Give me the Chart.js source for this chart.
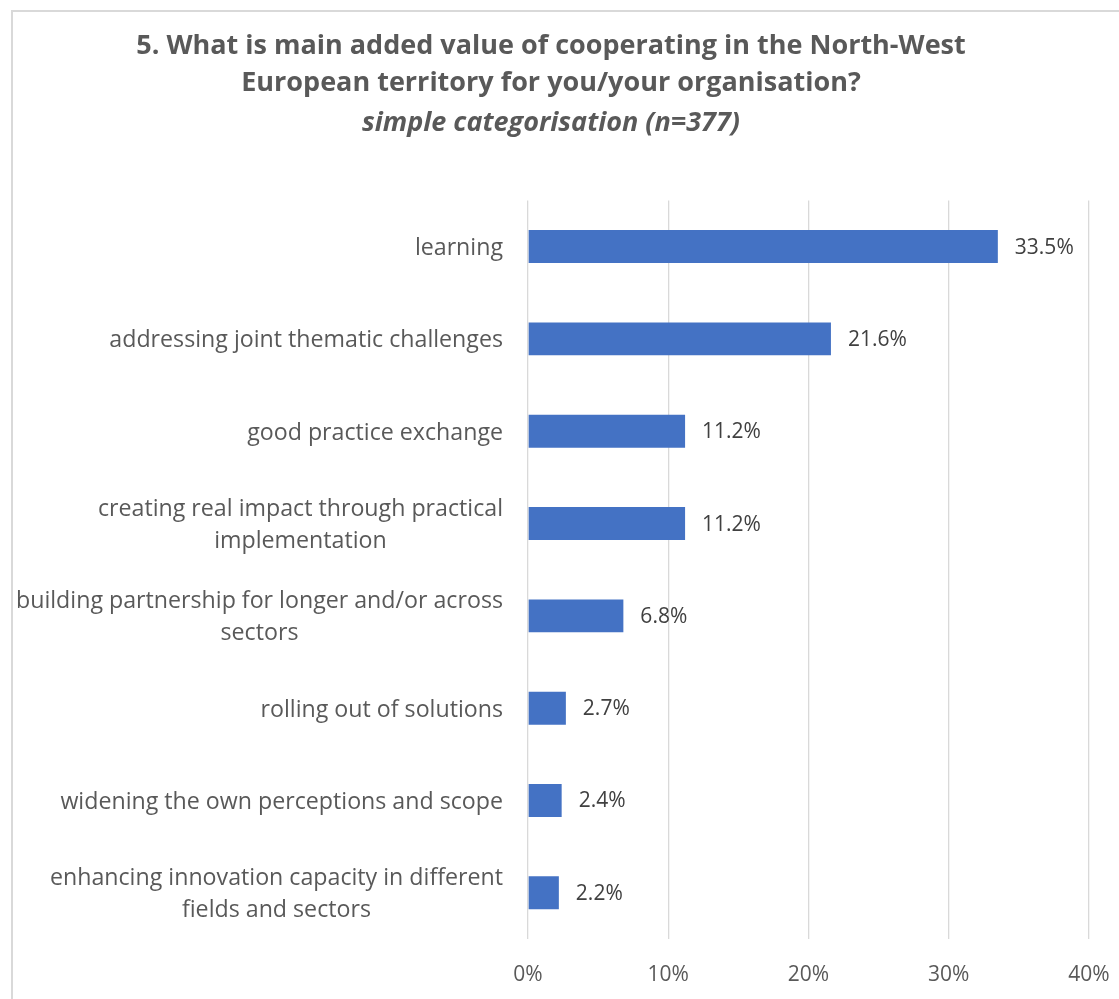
<!DOCTYPE html>
<html>
<head>
<meta charset="utf-8">
<script src="https://cdn.jsdelivr.net/npm/chart.js@4.4.0/dist/chart.umd.min.js"></script>
<style>
  html, body { margin: 0; padding: 0; background: #fff; overflow: hidden; }
  #box {
    position: absolute; left: 11px; top: 10px;
    width: 1132px; height: 1000px;
    border: 2px solid #d9d9d9;
  }
  canvas { display: block; }
</style>
</head>
<body>
<div id="box"><canvas id="addedValueChart" width="1132" height="1000"></canvas></div>
<script>
// survey answers, share of respondents in %
const categories = [
  ['learning'],
  ['addressing joint thematic challenges'],
  ['good practice exchange'],
  ['creating real impact through practical', 'implementation'],
  ['building partnership for longer and/or across', 'sectors'],
  ['rolling out of solutions'],
  ['widening the own perceptions and scope'],
  ['enhancing innovation capacity in different', 'fields and sectors']
];
const shares = [33.5, 21.6, 11.2, 11.2, 6.8, 2.7, 2.4, 2.2];
const xTicks = [0, 10, 20, 30, 40];

const FONT = '"Open Sans", "Noto Sans", sans-serif';
const TEXT = '#595959';

// category labels: block right aligned to the axis, lines centred inside the block
const categoryLabels = {
  id: 'categoryLabels',
  afterDraw(chart) {
    const { ctx, scales: { y } } = chart;
    const right = y.right - 25;
    const lineH = 32;
    ctx.save();
    ctx.font = '23.2px ' + FONT;
    ctx.fillStyle = TEXT;
    ctx.textAlign = 'center';
    ctx.textBaseline = 'middle';
    categories.forEach((lines, i) => {
      const w = Math.max(...lines.map(l => ctx.measureText(l).width));
      const cx = right - w / 2;
      const cy = y.getPixelForValue(i) + 2;
      lines.forEach((l, j) => {
        ctx.fillText(l, cx, cy + (j - (lines.length - 1) / 2) * lineH);
      });
    });
    ctx.restore();
  }
};

// value labels at the end of each bar
const valueLabels = {
  id: 'valueLabels',
  afterDatasetsDraw(chart) {
    const { ctx } = chart;
    const meta = chart.getDatasetMeta(0);
    ctx.save();
    ctx.font = '21px ' + FONT;
    ctx.fillStyle = '#404040';
    ctx.textAlign = 'left';
    ctx.textBaseline = 'middle';
    meta.data.forEach((bar, i) => {
      ctx.fillText(shares[i].toFixed(1) + '%', bar.x + 17, bar.y + 1);
    });
    ctx.restore();
  }
};

const ctx = document.getElementById('addedValueChart').getContext('2d');
new Chart(ctx, {
  type: 'bar',
  data: {
    labels: categories,
    datasets: [{
      data: shares,
      backgroundColor: '#4472C4',
      borderWidth: 0,
      categoryPercentage: 1,
      barPercentage: 0.357
    }]
  },
  options: {
    indexAxis: 'y',
    responsive: false,
    animation: false,
    layout: { padding: { top: 0, right: 56, bottom: 23, left: 0 } },
    plugins: {
      legend: { display: false },
      tooltip: { enabled: false },
      title: {
        display: true,
        text: ['5. What is main added value of cooperating in the North-West',
               'European territory for you/your organisation?'],
        color: TEXT,
        font: { family: FONT, size: 27, weight: 'bold', lineHeight: 1.4 },
        padding: { top: 15, bottom: 0 }
      },
      subtitle: {
        display: true,
        text: 'simple categorisation (n=377)',
        color: TEXT,
        font: { family: FONT, size: 27, weight: 'bold', style: 'italic', lineHeight: 1.4 },
        padding: { top: 2, bottom: 58 }
      }
    },
    scales: {
      x: {
        min: xTicks[0],
        max: xTicks[xTicks.length - 1],
        afterBuildTicks(scale) { scale.ticks = xTicks.map(v => ({ value: v })); },
        afterFit(scale) { scale.height = 50; },
        grid: { color: '#d9d9d9', lineWidth: 1.3, drawTicks: false },
        border: { display: false },
        ticks: {
          padding: 23,
          color: TEXT,
          font: { family: FONT, size: 21 },
          callback: v => v + '%'
        }
      },
      y: {
        afterFit(scale) { scale.width = 515; },
        grid: { display: false },
        border: { display: false },
        ticks: { display: false }
      }
    }
  },
  plugins: [categoryLabels, valueLabels]
});
</script>
</body>
</html>
